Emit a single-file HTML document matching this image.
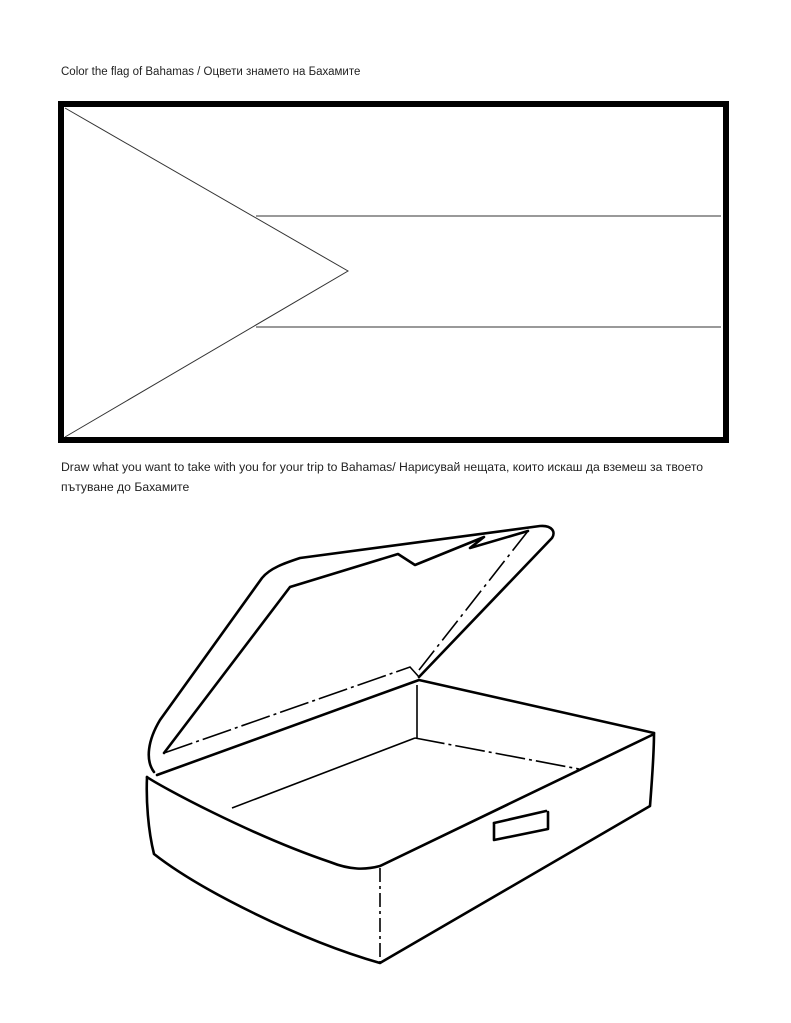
<!DOCTYPE html>
<html><head><meta charset="utf-8"><style>
body{margin:0;background:#fff;width:791px;height:1023px;position:relative;overflow:hidden;font-family:"Liberation Sans",sans-serif;font-size:11.5px;color:#222}
.t{position:absolute;white-space:nowrap}
svg{position:absolute;left:0;top:0}
</style></head><body>
<div class="t" style="left:61px;top:66px">Color the flag of Bahamas / Оцвети знамето на Бахамите</div>
<div class="t" style="left:61px;top:460px;font-size:12.2px">Draw what you want to take with you for your trip to Bahamas/ Нарисувай нещата, които искаш да вземеш за твоето</div>
<div class="t" style="left:61px;top:480px;font-size:12.2px">пътуване до Бахамите</div>
<svg width="791" height="1023" viewBox="0 0 791 1023">
<rect x="61" y="104" width="665" height="336" fill="none" stroke="#000" stroke-width="6"/>
<g stroke="#333" stroke-width="1" fill="none">
<polyline points="65,108 348,271 65,437"/>
<line x1="256" y1="216" x2="721" y2="216"/>
<line x1="256" y1="327" x2="721" y2="327"/>
</g>
<g stroke="#000" stroke-width="2.6" fill="none" stroke-linejoin="round" stroke-linecap="round">
<path d="M154,772 C145,760 148,740 160,720 L262,578 C270,568 285,563 300,558 L540,526 C552,525 556,532 552,538 L419,677"/>
<path d="M164,753 L290,587 L398,554 L415,565 L484,537 L470,548 L528,531"/>
<path d="M147,777 C158,785 250,835 330,862 C350,870 365,870 380,866 L652,735"/>
<path d="M157,775 L419,680 L654,733"/>
<path d="M147,777 C146,800 148,830 154,854 C200,890 300,940 380,963 L650,806 C652,780 654,755 654,733"/>
<path d="M494,823 L494,840 L548,829 L548,812"/>
<path d="M494,823 L546,811"/>
</g>
<g stroke="#000" stroke-width="1.6" fill="none">
<line x1="417" y1="685" x2="417" y2="738"/>
<line x1="232" y1="808" x2="415" y2="738"/>
<path d="M415,738 L579,769" stroke-dasharray="30,4,3,4"/>
<path d="M164,753 L410,667 L419,677" stroke-dasharray="30,4,3,4"/>
<path d="M528,531 L419,670" stroke-dasharray="25,5,3,5"/>
<path d="M380,868 L380,963" stroke-dasharray="14,4,3,4"/>
</g>
</svg>
</body></html>
